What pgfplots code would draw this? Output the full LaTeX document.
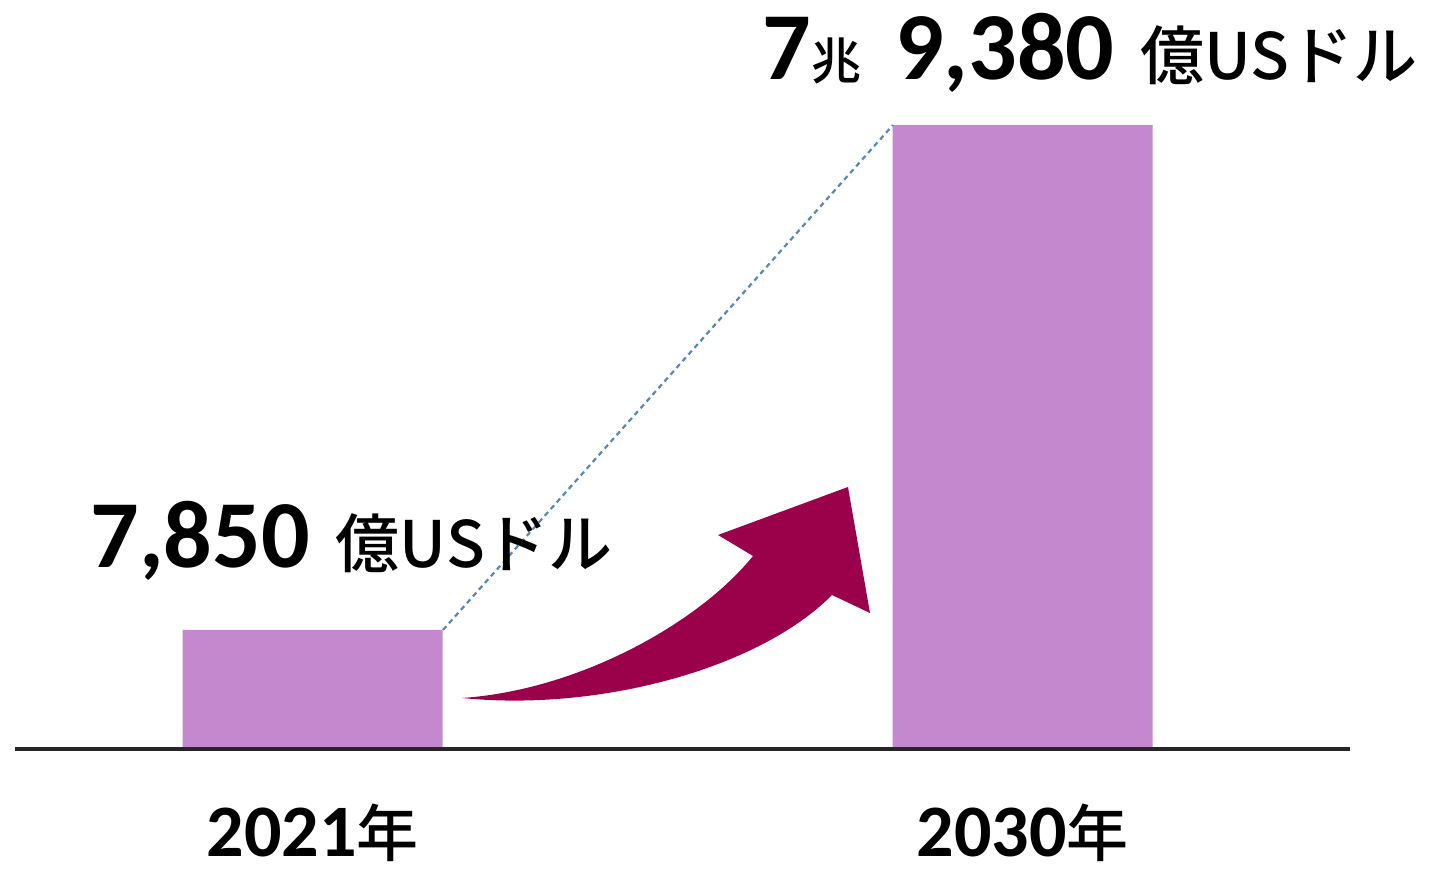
\documentclass[border=0pt]{standalone}
\usepackage{pgfplots}
\pgfplotsset{compat=1.18}
\usepackage{fontspec}
\setmainfont{Carlito}
\newfontfamily\numfont{Carlito}
\newfontfamily\ja{Noto Sans CJK JP Medium}

\definecolor{barcol}{RGB}{195,136,205}
\definecolor{arrowcol}{RGB}{155,0,75}
\definecolor{dashcol}{RGB}{85,135,185}

\newcommand{\bignum}[1]{{\numfont\bfseries\fontsize{48bp}{52bp}\selectfont #1}}
\newcommand{\jp}[2]{{\ja\mdseries\fontsize{#1}{#1}\selectfont #2}}

\begin{document}
\begin{tikzpicture}
\useasboundingbox (0,0) rectangle (715bp,-436.5bp);

% values in 100 million USD; log axis so the bars keep the drawn proportions
\begin{axis}[
  at={(7.5bp,-374.5bp)}, anchor=south west,
  scale only axis,
  width=667.5bp, height=312bp,
  ybar, bar width=130bp,
  ymode=log, log origin y=infty,
  ymin=4550, ymax=79380,
  xmin=-0.419, xmax=1.461,
  axis y line=none,
  axis x line*=bottom,
  x axis line style={line width=1.6bp, draw=black!85},
  axis on top,
  xtick={0,1},
  xticklabels={{\fontsize{37bp}{40bp}\selectfont 2021\jp{31bp}{年}},{\fontsize{37bp}{40bp}\selectfont 2030\jp{31bp}{年}}},
  major tick length=0pt,
  xticklabel style={anchor=base, yshift=-54bp, inner sep=0pt,
    font=\numfont\bfseries},
  clip=false,
]
\addplot[fill=barcol, draw=none] coordinates {(0,7850) (1,79380)};
\end{axis}

\begin{scope}[x=0.5bp,y=-0.5bp]
\draw[dashcol, line width=1.1bp, dash pattern=on 2.5bp off 2bp] (443,630) -- (893,125);

\fill[arrowcol] (462,698) .. controls (600,712) and (760,668) .. (832,595)
  -- (870,613) -- (848,487) -- (718,535) -- (753,556)
  .. controls (700,622) and (580,690) .. (462,698) -- cycle;

\node[anchor=base west, inner sep=0pt] at (90,568)
  {\bignum{7,850}\hspace{13bp}\jp{32bp}{億USドル}};
\node[anchor=base west, inner sep=0pt] at (762,80)
  {\bignum{7}\jp{25bp}{兆}\hspace{17bp}\bignum{9,380}\hspace{13bp}\jp{32bp}{億USドル}};
\end{scope}
\end{tikzpicture}
\end{document}
